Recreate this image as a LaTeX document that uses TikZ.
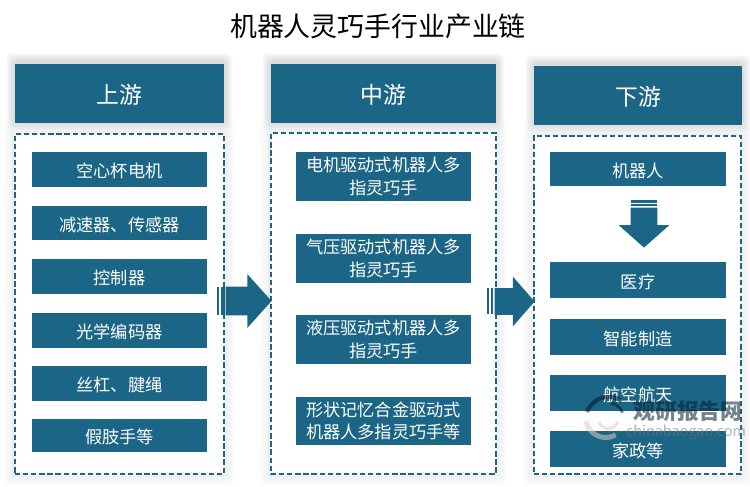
\documentclass[tikz,border=0pt]{standalone}
\usepackage{fontspec}
\setmainfont{Noto Sans CJK SC}
\usetikzlibrary{shapes.arrows,backgrounds}
\definecolor{chainblue}{HTML}{1B6587}
\tikzset{
    headbox/.style={rectangle, fill=chainblue, text=white, inner sep=0pt, minimum height=1.18cm, text height=13pt, text depth=1.4pt, font=\fontsize{13}{15}\selectfont},
    dashbox/.style={rectangle, draw=chainblue, fill=white, line width=0.8pt, dash pattern=on 3pt off 1.6pt, inner sep=0pt},
    itembox/.style={rectangle, fill=chainblue, text=white, inner sep=0pt, align=center, font=\fontsize{9.8}{12.6}\selectfont},
    lineitem/.style={itembox, text height=10.3pt, text depth=1.2pt},
    blockarrow/.style={single arrow, fill=chainblue, inner xsep=0pt, single arrow head indent=0pt, anchor=tip}
}
\begin{document}
\begin{tikzpicture}
    \useasboundingbox (0,0) rectangle (15,-9.72);
    \node[font=\fontsize{15.3}{18}\selectfont] (title) at (7.56,-0.52) {机器人灵巧手行业产业链};
    % dashed frames
    \node[dashbox, minimum width=4.18cm, minimum height=6.80cm] (frameup) at (2.39,-6.08) {};
    \node[dashbox, minimum width=4.50cm, minimum height=6.82cm] (framemid) at (7.67,-6.07) {};
    \node[dashbox, minimum width=4.14cm, minimum height=6.76cm] (framedown) at (12.75,-6.10) {};
    % headers
    \node[headbox, minimum width=4.18cm] (headup) at (2.39,-1.87) {上游};
    \node[headbox, minimum width=4.50cm] (headmid) at (7.67,-1.87) {中游};
    \node[headbox, minimum width=4.16cm] (headdown) at (12.76,-1.91) {下游};
    % upstream
    \node[lineitem, minimum width=3.5cm, minimum height=0.70cm] (upa) at (2.39,-3.39) {空心杯电机};
    \node[lineitem, minimum width=3.5cm, minimum height=0.68cm] (upb) at (2.39,-4.46) {减速器、传感器};
    \node[lineitem, minimum width=3.5cm, minimum height=0.70cm] (upc) at (2.39,-5.53) {控制器};
    \node[lineitem, minimum width=3.5cm, minimum height=0.70cm] (upd) at (2.39,-6.61) {光学编码器};
    \node[lineitem, minimum width=3.5cm, minimum height=0.70cm] (upe) at (2.39,-7.67) {丝杠、腱绳};
    \node[lineitem, minimum width=3.5cm, minimum height=0.66cm] (upf) at (2.39,-8.71) {假肢手等};
    % midstream
    \node[itembox, minimum width=3.5cm, minimum height=0.98cm] (mida) at (7.67,-3.53) {电机驱动式机器人多\\指灵巧手};
    \node[itembox, minimum width=3.5cm, minimum height=0.98cm] (midb) at (7.67,-5.17) {气压驱动式机器人多\\指灵巧手};
    \node[itembox, minimum width=3.5cm, minimum height=0.98cm] (midc) at (7.67,-6.79) {液压驱动式机器人多\\指灵巧手};
    \node[itembox, minimum width=3.5cm, minimum height=0.96cm] (midd) at (7.67,-8.42) {形状记忆合金驱动式\\机器人多指灵巧手等};
    % downstream
    \node[lineitem, minimum width=3.52cm, minimum height=0.68cm] (downa) at (12.76,-3.38) {机器人};
    \node[lineitem, minimum width=3.52cm, minimum height=0.72cm] (downb) at (12.76,-5.60) {医疗};
    \node[lineitem, minimum width=3.52cm, minimum height=0.72cm] (downc) at (12.76,-6.74) {智能制造};
    \node[lineitem, minimum width=3.52cm, minimum height=0.72cm] (downd) at (12.76,-7.86) {航空航天};
    \node[lineitem, minimum width=3.52cm, minimum height=0.72cm] (downe) at (12.76,-8.98) {家政等};
    % block arrows
    \node[blockarrow, inner ysep=0.28cm, minimum height=0.92cm, single arrow head extend=0.25cm, single arrow tip angle=96] (arrowa) at (5.44,-6.02) {};
    \node[blockarrow, inner ysep=0.26cm, minimum height=0.80cm, single arrow head extend=0.23cm, single arrow tip angle=98] (arrowb) at (10.70,-6.03) {};
    \node[blockarrow, inner ysep=0.26cm, minimum height=0.80cm, single arrow head extend=0.24cm, single arrow tip angle=97, rotate=270] (arrowc) at (12.88,-4.96) {};
    \fill[chainblue] (4.34,-5.74) rectangle (4.38,-6.30);
    \fill[chainblue] (4.42,-5.74) rectangle (4.50,-6.30);
    \fill[chainblue] (9.74,-5.76) rectangle (9.78,-6.28);
    \fill[chainblue] (9.82,-5.76) rectangle (9.86,-6.28);
    \fill[chainblue] (12.62,-4.00) rectangle (13.14,-4.05);
    \fill[chainblue] (12.62,-4.08) rectangle (13.14,-4.12);
    % soft shadows
    \begin{scope}[on background layer]
        \foreach \name in {headup,headmid,headdown} {
            \foreach \d in {0.04,0.08,...,0.2} {
                \fill[black, opacity=0.035, rounded corners=0.1cm] ([shift={(-\d,\d+0.04)}]\name.north west) rectangle ([shift={(\d,-\d+0.04)}]\name.south east);
            }
        }
        \foreach \name in {frameup,framemid,framedown} {
            \foreach \d in {0.05,0.10,...,0.25} {
                \fill[black, opacity=0.015, rounded corners=0.1cm] ([shift={(-\d,\d)}]\name.north west) rectangle ([shift={(\d,-\d)}]\name.south east);
            }
        }
    \end{scope}
    % watermark
    \begin{scope}[opacity=0.55]
        \draw[line width=2.4pt, color=black!75!chainblue] (11.74,-8.24) arc (160:60:0.46);
        \draw[line width=1.6pt, color=black!75!chainblue] (12.22,-8.06) arc (80:20:0.30);
        \draw[line width=2.8pt, color=black!30!brown!30] (11.72,-8.42) arc (190:300:0.40);
        \draw[line width=1.8pt, color=black!30!brown!30] (11.98,-8.44) arc (200:340:0.20);
        \node[font=\fontsize{12.4}{14}\bfseries\selectfont, text=black!70!chainblue, inner sep=0pt] (wmname) at (13.76,-8.22) {观研报告网};
        \node[font=\fontsize{8.2}{10}\selectfont, text=black!55, inner sep=0pt] (wmsite) at (13.72,-8.66) {chinabaogao.com};
    \end{scope}
\end{tikzpicture}
\end{document}
